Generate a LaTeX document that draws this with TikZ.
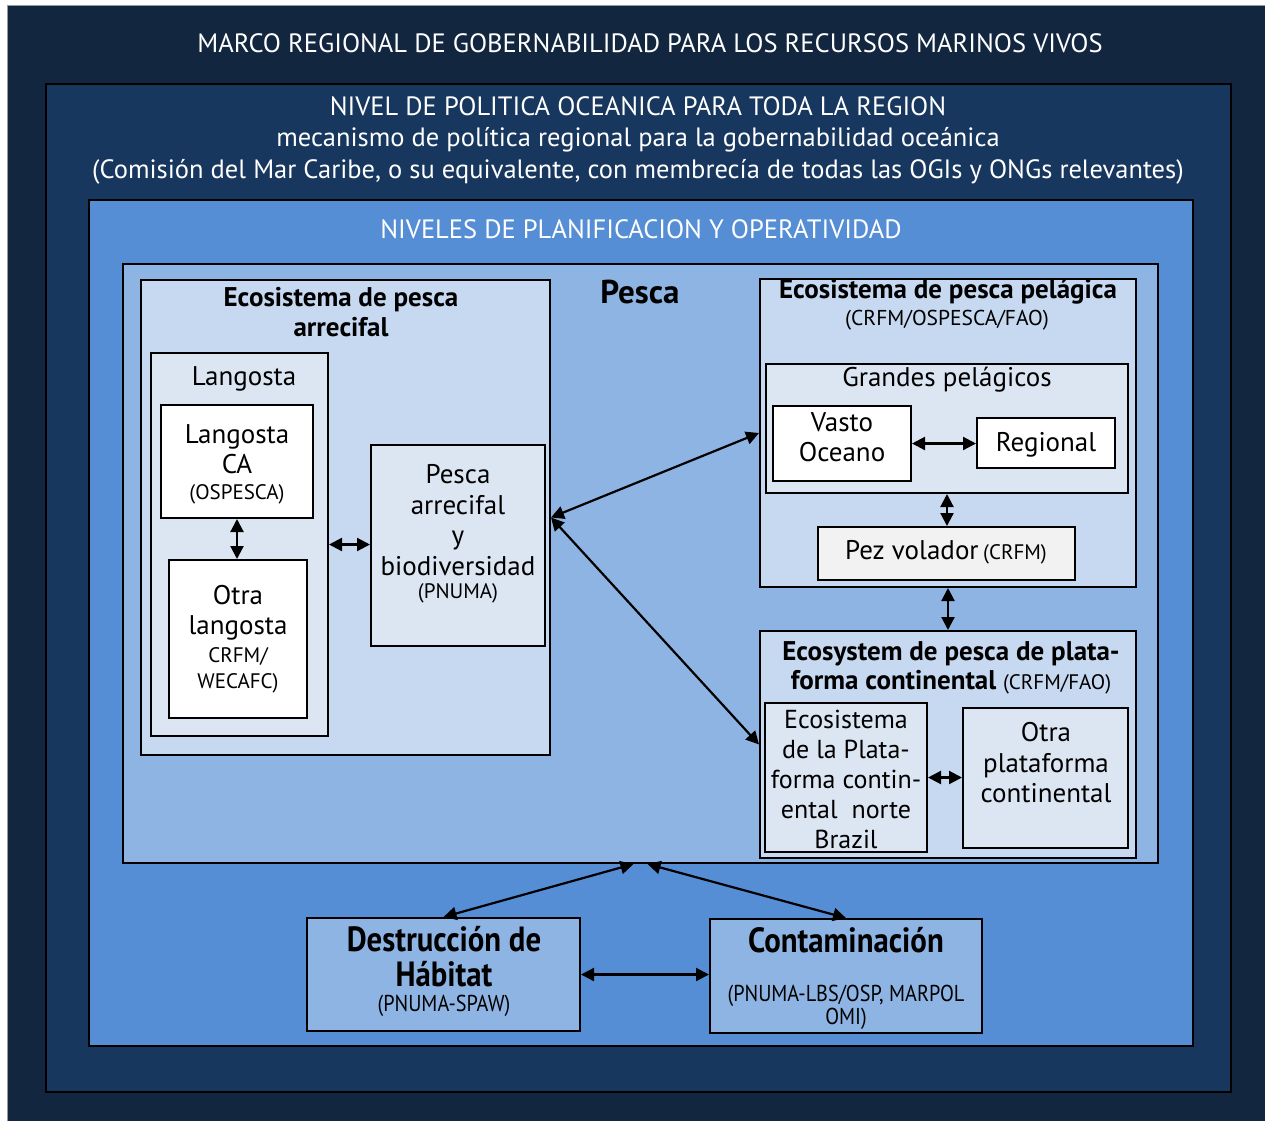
\documentclass[tikz,border=0pt]{standalone}
\usepackage{fontspec}
\setmainfont{PT Sans}
\newfontfamily\condfont[FakeStretch=0.88]{PT Sans}
\usetikzlibrary{arrows.meta,calc}
\definecolor{cA}{HTML}{12263F}
\definecolor{cB}{HTML}{17375E}
\definecolor{cC}{HTML}{558ED5}
\definecolor{cD}{HTML}{8EB4E3}
\definecolor{cE}{HTML}{C6D9F1}
\definecolor{cF}{HTML}{DCE6F2}
\definecolor{cG}{HTML}{F2F2F2}
\newcommand{\fz}[2]{\fontsize{#1}{#2}\selectfont}
\tikzset{
  box/.style={draw=black, line width=2pt, inner sep=0pt, rectangle},
  txt/.style={inner sep=0pt, align=center, text=black},
  wtxt/.style={inner sep=0pt, align=center, text=white},
  dbl/.style={line width=2.2pt, {Triangle[length=13pt,width=13pt]}-{Triangle[length=13pt,width=13pt]}},
}
\begin{document}
\begin{tikzpicture}[x=1pt,y=-1pt]
\useasboundingbox (0,0) rectangle (1265,1120);
\fill[white] (0,0) rectangle (1265,1120);
% nested frames
\node[box, draw=gray!80, line width=1pt, fill=cA, minimum width=1268pt, minimum height=1125pt] (outer) at (641,567.5) {};
\node[box, fill=cB, minimum width=1185pt, minimum height=1008pt] (lvl2) at (638.5,588) {};
\node[box, fill=cC, minimum width=1104pt, minimum height=846pt] (lvl3) at (641,623) {};
\node[box, fill=cD, minimum width=1035pt, minimum height=599pt] (pesca) at (640.5,563.5) {};
% reef ecosystem
\node[box, fill=cE, minimum width=409pt, minimum height=475pt] (arrec) at (345.5,517.5) {};
\node[box, fill=cF, minimum width=177pt, minimum height=383pt] (lang) at (239.5,544.5) {};
\node[box, fill=white, minimum width=152pt, minimum height=113pt] (lca) at (237,461.5) {};
\node[box, fill=white, minimum width=138pt, minimum height=158pt] (otra) at (238,639) {};
\node[box, fill=cF, minimum width=174pt, minimum height=201pt] (parr) at (458,545.5) {};
% pelagic
\node[box, fill=cE, minimum width=376pt, minimum height=308pt] (pelag) at (948,433) {};
\node[box, fill=cF, minimum width=362pt, minimum height=129pt] (grandes) at (947,428.5) {};
\node[box, fill=white, minimum width=138pt, minimum height=75pt] (vasto) at (842,443.5) {};
\node[box, fill=white, minimum width=138pt, minimum height=50pt] (regional) at (1046,443) {};
\node[box, fill=cG, minimum width=257pt, minimum height=53pt] (pez) at (946.5,553.5) {};
% shelf
\node[box, fill=cE, minimum width=376pt, minimum height=227pt] (plat) at (948,744.5) {};
\node[box, fill=cF, minimum width=162pt, minimum height=149pt] (ecoplat) at (846,777.5) {};
\node[box, fill=cF, minimum width=165pt, minimum height=140pt] (otraplat) at (1045.5,778) {};
% bottom
\node[box, fill=cD, minimum width=273pt, minimum height=113pt] (destr) at (443.5,974.5) {};
\node[box, fill=cD, minimum width=272pt, minimum height=114pt] (contam) at (846,976) {};

% texts
\node[wtxt, font=\fz{26.5}{28}] (t1) at (650,43) {MARCO REGIONAL DE GOBERNABILIDAD PARA LOS RECURSOS MARINOS VIVOS};
\node[wtxt, font=\fz{26.5}{31.5}] (t2) at (638,140) {NIVEL DE POLITICA OCEANICA PARA TODA LA REGION\\mecanismo de política regional para la gobernabilidad oceánica\\(Comisión del Mar Caribe, o su equivalente, con membrecía de todas las OGIs y ONGs relevantes)};
\node[wtxt, font=\fz{26.5}{28}] (t3) at (641,229) {NIVELES DE PLANIFICACION Y OPERATIVIDAD};
\node[txt, font=\bfseries\fz{33}{30}] (tp) at (640,292) {Pesca};
\node[txt, font=\bfseries\fz{27}{30}] (ta) at (341,312) {Ecosistema de pesca\\arrecifal};
\node[txt, font=\fz{27}{30}] (tl) at (244,379) {Langosta};
\node[txt, font=\fz{27}{30}] (tlca) at (237,449) {Langosta\\CA};
\node[txt, font=\fz{21}{20}] (tlca2) at (237,494) {(OSPESCA)};
\node[txt, font=\fz{27}{30}] (tot) at (238,613) {Otra\\langosta};
\node[txt, font=\fz{21}{26}] (tot2) at (238,670) {CRFM/\\WECAFC)};
\node[txt, font=\fz{27}{30.5}] (tpa) at (458,520) {Pesca\\arrecifal\\y\\biodiversidad};
\node[txt, font=\fz{21}{20}] (tpa2) at (458,593) {(PNUMA)};
\node[txt, font=\bfseries\fz{27}{30}] (tpe) at (948,292) {Ecosistema de pesca pelágica};
\node[txt, font=\fz{21.5}{20}] (tpe2) at (947,320) {(CRFM/OSPESCA/FAO)};
\node[txt, font=\fz{27}{30}] (tg) at (947,380) {Grandes pelágicos};
\node[txt, font=\fz{27}{30}] (tv) at (842,437) {Vasto\\Oceano};
\node[txt, font=\fz{27}{30}] (tr) at (1046,445) {Regional};
\node[txt, font=\fz{27}{30}] (tpz) at (946,552) {Pez volador\,{\fz{21}{20}(CRFM)}};
\node[txt, font=\bfseries\fz{27}{29}] (tpl) at (951,668) {Ecosystem de pesca de plata-\\forma continental {\mdseries\fz{21}{20}(CRFM/FAO)}};
\node[txt, font=\fz{26}{30}] (tep) at (846,779) {Ecosistema\\de la Plata-\\forma contin-\\ental\ \ norte\\Brazil};
\node[txt, font=\fz{27}{30.5}] (top) at (1046,763) {Otra\\plataforma\\continental};
\node[txt, font=\condfont\bfseries\fz{35}{35}] (td) at (444,957) {Destrucción de\\Hábitat};
\node[txt, font=\condfont\fz{23}{22}] (td2) at (444,1006) {(PNUMA-SPAW)};
\node[txt, font=\condfont\bfseries\fz{35}{35}] (tc) at (846,940) {Contaminación};
\node[txt, font=\condfont\fz{23}{23}] (tc2) at (846,1007) {(PNUMA-LBS/OSP, MARPOL\\OMI)};

% connectors
\draw[dbl] (lca.south) -- (lca.south |- otra.north);
\draw[dbl] (lang.east) -- (lang.east -| parr.west);
\draw[dbl] (arrec.east) -- (pelag.west);
\draw[dbl] (arrec.east) -- (plat.west);
\draw[dbl] (vasto.east) -- (vasto.east -| regional.west);
\draw[dbl] (grandes.south) -- (grandes.south |- pez.north);
\draw[dbl] (pelag.south) -- (plat.north);
\draw[dbl] (ecoplat.east) -- (ecoplat.east -| otraplat.west);
\coordinate (pL) at ($(pesca.south)+(-7,0)$);
\coordinate (pR) at ($(pesca.south)+(7,0)$);
\draw[dbl] (destr.north) -- (pL);
\draw[dbl] (contam.north) -- (pR);
\draw[dbl] (destr.east) -- (destr.east -| contam.west);
\end{tikzpicture}
\end{document}
